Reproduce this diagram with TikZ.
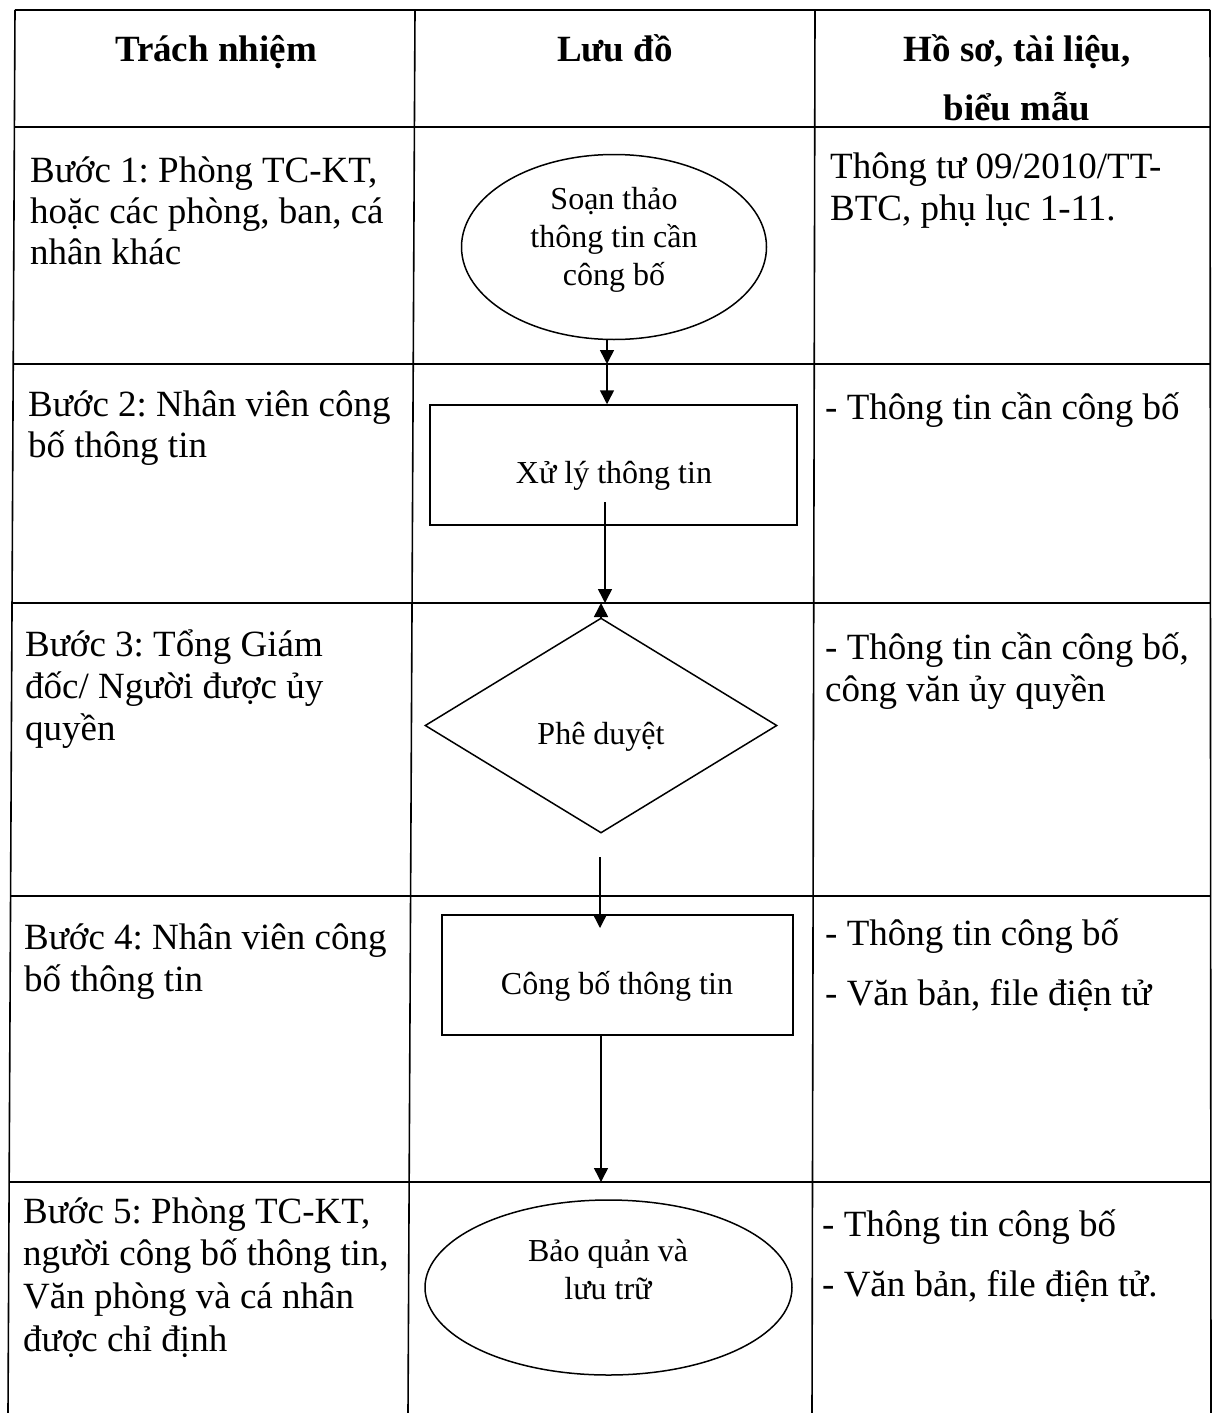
\documentclass[tikz,border=0pt]{standalone}
\usepackage{fontspec}
\setmainfont{Liberation Serif}
\usetikzlibrary{shapes.geometric,arrows.meta}
\frenchspacing
\begin{document}
\begin{tikzpicture}[x=1pt,y=-1pt,
  gridline/.style={line width=1.6pt},
  shp/.style={draw,line width=1.5pt,inner sep=0pt},
  body/.style={anchor=base west,inner sep=0pt,font=\fontsize{37}{42}\selectfont\frenchspacing},
  hdr/.style={anchor=base,inner sep=0pt,font=\fontsize{37}{42}\selectfont\bfseries},
  fc/.style={anchor=base,inner sep=0pt,font=\fontsize{32}{37}\selectfont},
  arr/.style={line width=1.5pt,-{Triangle[length=14pt,width=14pt]}}]
\useasboundingbox (0,0) rectangle (1212,1413);
% table frame
\coordinate (tl) at (15,10);    \coordinate (bl) at (8,1413);
\coordinate (tm1) at (415,10);  \coordinate (bm1) at (408,1413);
\coordinate (tm2) at (815,10);  \coordinate (bm2) at (812,1413);
\coordinate (tr) at (1210,10);  \coordinate (br) at (1211,1413);
\draw[gridline] (tl) -- (bl);
\draw[gridline] (tm1) -- (bm1);
\draw[gridline] (tm2) -- (bm2);
\draw[gridline] (tr) -- (br);
\draw[gridline] (tl) -- (tr);
\foreach \yy/\xl in {127/15, 364/13.6, 603/12.4, 896/10.6, 1182/9.2}
  \draw[gridline] (\xl,\yy) -- (1210.5,\yy);
% headers
\node[hdr] (h1) at (216,62) {Trách nhiệm};
\node[hdr] (h2) at (615,62) {Lưu đồ};
\node[hdr] (h3a) at (1017,62) {Hồ sơ, tài liệu,};
\node[hdr] (h3b) at (1017,120) {biểu mẫu};
% column 1
\node[body] (s1a) at (30,182) {Bước 1: Phòng TC-KT,};
\node[body] (s1b) at (30,223) {hoặc các phòng, ban, cá};
\node[body] (s1c) at (30,264) {nhân khác};
\node[body] (s2a) at (28,416) {Bước 2: Nhân viên công};
\node[body] (s2b) at (28,457) {bố thông tin};
\node[body] (s3a) at (25,656) {Bước 3: Tổng Giám};
\node[body] (s3b) at (25,698) {đốc/ Người được ủy};
\node[body] (s3c) at (25,740) {quyền};
\node[body] (s4a) at (24,949) {Bước 4: Nhân viên công};
\node[body] (s4b) at (24,991) {bố thông tin};
\node[body] (s5a) at (23,1223) {Bước 5: Phòng TC-KT,};
\node[body] (s5b) at (23,1265) {người công bố thông tin,};
\node[body] (s5c) at (23,1308) {Văn phòng và cá nhân};
\node[body] (s5d) at (23,1351) {được chỉ định};
% column 3
\node[body] (d1a) at (830,178) {Thông tư 09/2010/TT-};
\node[body] (d1b) at (830,220) {BTC, phụ lục 1-11.};
\node[body] (d2a) at (825,419) {- Thông tin cần công bố};
\node[body] (d3a) at (825,659) {- Thông tin cần công bố,};
\node[body] (d3b) at (825,701) {công văn ủy quyền};
\node[body] (d4a) at (825,945) {- Thông tin công bố};
\node[body] (d4b) at (825,1005) {- Văn bản, file điện tử};
\node[body] (d5a) at (822,1236) {- Thông tin công bố};
\node[body] (d5b) at (822,1296) {- Văn bản, file điện tử.};
% flowchart shapes
\node[shp,ellipse,minimum width=305pt,minimum height=185pt] (e1) at (614,247) {};
\node[shp,rectangle,minimum width=367pt,minimum height=120pt] (r1) at (613.5,465) {};
\node[shp,diamond,minimum width=352pt,minimum height=215pt] (dm) at (601,725.5) {};
\node[shp,rectangle,minimum width=351pt,minimum height=120pt] (r2) at (617.5,975) {};
\node[shp,ellipse,minimum width=367pt,minimum height=175pt] (e2) at (608.5,1287.5) {};
% flowchart texts
\node[fc] (e1a) at (614,209) {Soạn thảo};
\node[fc] (e1b) at (614,247) {thông tin cần};
\node[fc] (e1c) at (614,285) {công bố};
\node[fc] (r1t) at (614,483) {Xử lý thông tin};
\node[fc] (dmt) at (601,744) {Phê duyệt};
\node[fc] (r2t) at (617,994) {Công bố thông tin};
\node[fc] (e2a) at (608,1261) {Bảo quản và};
\node[fc] (e2b) at (608,1299) {lưu trữ};
% connectors
\coordinate (c1) at (607,364);
\draw[arr] (e1.south -| c1) -- (c1);
\draw[arr] (c1) -- (c1 |- r1.north);
\coordinate (a3s) at (605,502);
\coordinate (c2) at (605,603);
\draw[arr] (a3s) -- (c2);
\draw[arr] (dm.north) -- (dm.north |- c2);
\coordinate (a5s) at (600,857);
\coordinate (a5e) at (600,928);
\draw[arr] (a5s) -- (a5e);
\coordinate (c6) at (601,1182);
\draw[arr] (r2.south -| c6) -- (c6);
\end{tikzpicture}
\end{document}
